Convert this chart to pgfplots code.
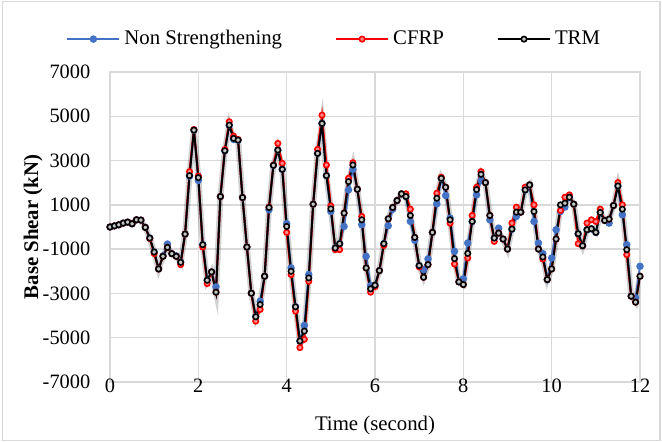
\documentclass[border=0pt]{standalone}
\usepackage{pgfplots}
\pgfplotsset{compat=1.18}
\usepackage{pgfplotstable}
\usepackage{fontspec}
\setmainfont{Liberation Serif}
\definecolor{exblue}{RGB}{68,114,196}
\definecolor{gridc}{RGB}{217,217,217}
\pgfplotstableread{
t ns cfrp trm
0.0 0 0 0
0.1 50 50 50
0.2 100 100 100
0.3 175 175 175
0.4 220 220 220
0.5 145 145 145
0.6 325 325 325
0.7 310 310 310
0.8 -20 -20 -20
0.9 -500 -520 -500
1.0 -1130 -1200 -1130
1.1 -1895 -1895 -1895
1.2 -1300 -1325 -1325
1.3 -770 -920 -920
1.4 -1205 -1205 -1205
1.5 -1300 -1325 -1325
1.6 -1595 -1700 -1595
1.7 -320 -320 -320
1.8 2300 2500 2320
1.9 4375 4400 4375
2.0 2100 2300 2230
2.1 -800 -905 -800
2.2 -2405 -2555 -2405
2.3 -2030 -2030 -2030
2.4 -2705 -2945 -2945
2.5 1375 1375 1375
2.6 3445 3500 3445
2.7 4600 4750 4600
2.8 3950 4100 4000
2.9 3925 3950 3925
3.0 1330 1330 1330
3.1 -905 -905 -905
3.2 -2990 -2990 -2990
3.3 -4055 -4250 -4055
3.4 -3350 -3725 -3500
3.5 -2225 -2225 -2225
3.6 780 900 880
3.7 2785 2800 2785
3.8 3475 3775 3475
3.9 2605 2875 2605
4.0 150 -245 25
4.1 -1850 -2150 -2000
4.2 -3605 -3800 -3605
4.3 -5150 -5450 -5150
4.4 -4445 -5075 -4700
4.5 -2150 -2450 -2300
4.6 1030 1030 1030
4.7 3325 3505 3325
4.8 4675 5050 4675
4.9 2320 2800 2320
5.0 700 950 820
5.1 -950 -1025 -950
5.2 -755 -1025 -755
5.3 25 625 625
5.4 1675 2200 2050
5.5 2600 2900 2800
5.6 1705 1705 1705
5.7 100 475 325
5.8 -1325 -1850 -1850
5.9 -2650 -2945 -2795
6.0 -2630 -2700 -2630
6.1 -1970 -1970 -1970
6.2 -755 -830 -755
6.3 55 370 370
6.4 800 880 880
6.5 1195 1195 1195
6.6 1495 1495 1495
6.7 1375 1500 1375
6.8 250 805 520
6.9 -600 -470 -470
7.0 -1745 -1800 -1745
7.1 -1925 -2270 -2270
7.2 -1445 -1700 -1700
7.3 -245 -245 -245
7.4 1045 1525 1300
7.5 2200 2250 2200
7.6 1420 1795 1795
7.7 400 175 325
7.8 -1100 -1670 -1430
7.9 -2480 -2480 -2480
8.0 -2345 -2600 -2600
8.1 -725 -1400 -1190
8.2 250 520 250
8.3 1450 1795 1690
8.4 2100 2500 2380
8.5 2005 2005 2005
8.6 325 520 520
8.7 -500 -650 -500
8.8 -50 -275 -275
8.9 -545 -545 -545
9.0 -995 -995 -995
9.1 -95 175 -95
9.2 475 895 670
9.3 670 670 670
9.4 1675 1800 1675
9.5 1900 1900 1900
9.6 250 1000 700
9.7 -725 -995 -995
9.8 -1200 -1445 -1355
9.9 -2375 -2375 -2375
10.0 -1400 -1895 -1895
10.1 -125 -545 -545
10.2 700 745 1000
10.3 900 1345 1075
10.4 1345 1450 1345
10.5 1030 1030 1030
10.6 -305 -755 -305
10.7 -845 -845 -845
10.8 -125 175 -125
10.9 -80 325 -80
11.0 -245 250 -245
11.1 655 805 655
11.2 295 295 295
11.3 175 355 355
11.4 970 970 970
11.5 1855 2005 1855
11.6 550 1000 805
11.7 -800 -1250 -1025
11.8 -3125 -3125 -3125
11.9 -3200 -3395 -3395
12.0 -1775 -2225 -2225
}\datatab
\begin{document}
\begin{tikzpicture}
\path[use as bounding box] (0,0) rectangle (331pt,221pt);
\draw[gridc, line width=0.6pt] (1.2pt,0.6pt) rectangle (330pt,220.4pt);
\begin{axis}[
  at={(55pt,30pt)}, anchor=south west,
  scale only axis, width=265pt, height=155pt,
  xmin=0, xmax=12, ymin=-7000, ymax=7000,
  xtick={0,2,...,12}, ytick={-7000,-5000,...,7000},
  yticklabels={\mbox{-7000},\mbox{-5000},\mbox{-3000},\mbox{-1000},\mbox{1000},\mbox{3000},\mbox{5000},\mbox{7000}},
  grid=major, major grid style={gridc, line width=0.75pt},
  axis line style={gridc, line width=0.75pt},
  tick style={draw=none},
  scaled y ticks=false, scaled x ticks=false,
  /pgf/number format/1000 sep={},
  /pgf/number format/assume math mode=true,
  ticklabel style={font=\fontsize{10.2}{12}\selectfont},
  yticklabel style={xshift=-6.3pt},
  xticklabel style={anchor=center, yshift=-1.8pt},
  xlabel={Time (second)}, ylabel={\textbf{Base Shear (kN)}},
  label style={font=\fontsize{10.4}{12}\selectfont},
  xlabel style={at={(axis description cs:0.5,-0.139)}, anchor=center},
  ylabel style={at={(axis description cs:-0.145,0.5)}, anchor=center},
  legend columns=3,
  legend style={draw=none, fill=none, at={(axis description cs:0.425,1.106)}, anchor=center,
    font=\fontsize{10.4}{12}\selectfont,
    /tikz/every even column/.append style={column sep=24.5pt}},
  legend image code/.code={\draw[mark repeat=2, mark phase=2, #1] plot coordinates {(0pt,0pt) (13pt,0pt) (26pt,0pt)};},
]
\addplot[forget plot, black, opacity=0.18, line width=3pt] table[x=t, y=trm] {\datatab};
\addplot[exblue, line width=1pt, mark=*, mark size=1.35pt, mark options={fill=exblue, draw=exblue}] table[x=t, y=ns] {\datatab};
\addlegendentry{Non Strengthening}
\addplot[red, line width=1pt, mark=*, mark size=1.35pt, mark options={fill=red!45, draw=red, line width=0.8pt}] table[x=t, y=cfrp] {\datatab};
\addlegendentry{CFRP}
\addplot[black, line width=1pt, mark=*, mark size=1.35pt, mark options={fill=gray!45, draw=black, line width=0.8pt}] table[x=t, y=trm] {\datatab};
\addlegendentry{TRM}
\end{axis}
\end{tikzpicture}
\end{document}
